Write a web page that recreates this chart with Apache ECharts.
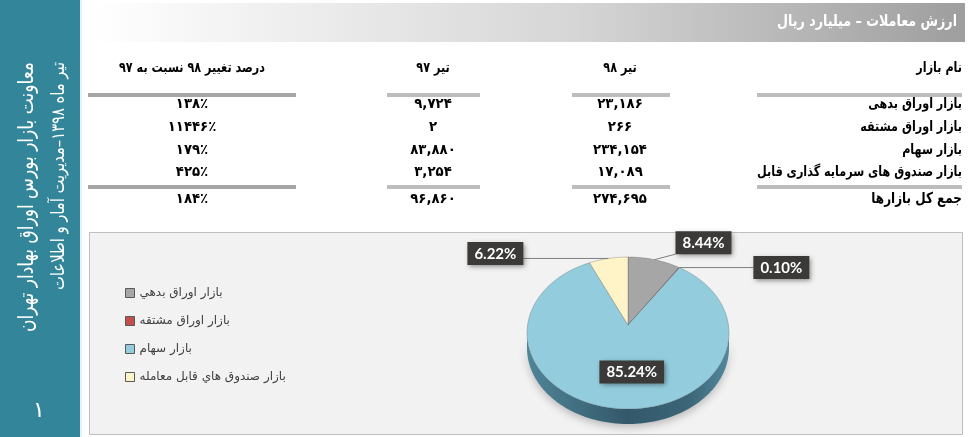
<!DOCTYPE html>
<html><head><meta charset="utf-8">
<script src="https://cdn.jsdelivr.net/npm/echarts@6/dist/echarts.min.js"></script>
<style>html,body{margin:0;padding:0;background:#fff}#c{width:968px;height:437px}</style>
</head><body><div id="c"></div>
<script>
// ---------------- data ----------------
const columnHeaders = ['نام بازار', 'تیر ۹۸', 'تیر ۹۷', 'درصد تغییر ۹۸ نسبت به ۹۷'];
const marketNames = ['بازار اوراق بدهی', 'بازار اوراق مشتقه', 'بازار سهام', 'بازار صندوق های سرمایه گذاری قابل'];
const legendNames = ['بازار اوراق بدهي', 'بازار اوراق مشتقه', 'بازار سهام', 'بازار صندوق هاي قابل معامله'];
const tir98 = [23186, 266, 234154, 17089];
const tir97 = [9724, 2, 83880, 3254];
const changePct = [138, 11446, 179, 425];
const totalLabel = 'جمع کل بازارها';
const total98 = 274695;
const total97 = 96860;
const totalPct = 184;
const headerTitle = 'ارزش معاملات – میلیارد ریال';
const sideLine1 = 'معاونت بازار بورس اوراق بهادار تهران';
const sideLine2 = 'تیر ماه ۱۳۹۸–مدیریت آمار و اطلاعات';
const pageNumber = '۱';

// ---------------- layout / style ----------------
const FA = '"DejaVu Sans"';
const sliceColors = ['#a6a6a6', '#c0504d', '#93cddd', '#fff3c8'];
const wallColors = ['#707070', '#7a2e2c', null, '#bdb187'];
const pieCx = 628, pieCy = 333, pieApexY = 325, pieRx = 101, pieRy = 76, pieDepth = 15;
const labelPlacement = [
  {dx: 49, dy: -17},
  {dx: 102, dy: 0},
  {inside: 0.58, dx: 8, dy: -5},
  {dx: -113, dy: -5}
];
const colX = [962, 620, 433, 192];
const headerRowY = 68;
const rowY = [104, 127, 150, 172];
const totalRowY = 199;
const ruleY = [95, 187];
const ruleSegs = [[88, 296, '#a6a6a6'], [387, 480, '#bdbdbd'], [572, 670, '#bdbdbd'], [757, 962, '#bdbdbd']];

// ---------------- helpers ----------------
function fa(s) { return String(s).replace(/\d/g, d => '۰۱۲۳۴۵۶۷۸۹'[d]); }
function faNum(n) { return fa(n.toLocaleString('en-US')); }
function faPct(n) { return fa(n) + '٪'; }
const mctx = document.createElement('canvas').getContext('2d');
function tw(text, font) { mctx.font = font; return mctx.measureText(text).width; }
function T(text, x, y, font, fill, align, scale, rot) {
  return {type: 'text', x: x, y: y, rotation: rot || 0, scaleX: scale || 1, z: 5,
    style: {text: text, font: font, fill: fill, align: align, textAlign: align,
      verticalAlign: 'middle', textVerticalAlign: 'middle'}};
}

const tableFont = 'bold 14px ' + FA;
const tableScale = Math.min(1, 205 / tw(marketNames[3], tableFont));
const numFont = 'bold 14px ' + FA;
const numScale = 0.95;
const totalFont = 'bold 15px ' + FA;
const headFont = 'bold 16px ' + FA;
const headScale = Math.min(1, 180 / tw(headerTitle, headFont));
const side1Font = '21px ' + FA, side2Font = '18px ' + FA;
const side1Scale = 270 / tw(sideLine1, side1Font);
const side2Scale = 228 / tw(sideLine2, side2Font);

// ---------------- graphic (frame + table) ----------------
const g = [];
g.push({type: 'rect', shape: {x: 0, y: 0, width: 80, height: 437}, style: {fill: '#33869a'}});
g.push({type: 'rect', shape: {x: 80, y: 0, width: 2, height: 437}, style: {fill: '#e3f5f9'}});
g.push(T(sideLine1, 28, 62, side1Font, '#ffffff', 'right', side1Scale, Math.PI / 2));
g.push(T(sideLine2, 59, 62, side2Font, '#ffffff', 'right', side2Scale, Math.PI / 2));
g.push(T(pageNumber, 39, 411, '22px ' + FA, '#ffffff', 'center', 1, 0));
g.push({type: 'rect', shape: {x: 92, y: 3, width: 873, height: 39},
  style: {fill: {type: 'linear', x: 0, y: 0, x2: 1, y2: 0,
    colorStops: [{offset: 0, color: '#ffffff'}, {offset: 0.55, color: '#d6d6d6'}, {offset: 1, color: '#9e9e9e'}]}}});
g.push(T(headerTitle, 957, 22, headFont, '#ffffff', 'right', headScale, 0));
// column headers
g.push(T(columnHeaders[0], colX[0], headerRowY, tableFont, '#000', 'right', tableScale));
for (let c = 1; c < 4; c++) g.push(T(columnHeaders[c], colX[c], headerRowY, tableFont, '#000', 'center', tableScale));
// rules
ruleY.forEach(y => ruleSegs.forEach(s => g.push({type: 'rect', shape: {x: s[0], y: y - 2, width: s[1] - s[0], height: 4}, style: {fill: s[2]}})));
// rows
for (let r = 0; r < marketNames.length; r++) {
  g.push(T(marketNames[r], colX[0], rowY[r], tableFont, '#000', 'right', tableScale));
  g.push(T(faNum(tir98[r]), colX[1], rowY[r], numFont, '#000', 'center', numScale));
  g.push(T(faNum(tir97[r]), colX[2], rowY[r], numFont, '#000', 'center', numScale));
  g.push(T(faPct(changePct[r]), colX[3], rowY[r], numFont, '#000', 'center', numScale));
}
g.push(T(totalLabel, colX[0], totalRowY, totalFont, '#000', 'right', tableScale));
g.push(T(faNum(total98), colX[1], totalRowY, numFont, '#000', 'center', numScale));
g.push(T(faNum(total97), colX[2], totalRowY, numFont, '#000', 'center', numScale));
g.push(T(faPct(totalPct), colX[3], totalRowY, numFont, '#000', 'center', numScale));
// chart panel
g.push({type: 'rect', z: -1, shape: {x: 89.5, y: 232.5, width: 873, height: 202}, style: {fill: '#f2f2f2', stroke: '#bfbfbf', lineWidth: 1}});

// ---------------- 3D pie via custom series ----------------
const pieTotal = tir98.reduce((a, b) => a + b, 0);
function rim(a) { return [pieCx + pieRx * Math.sin(a), pieCy - pieRy * Math.cos(a)]; }
function arcPts(a0, a1) {
  const n = Math.max(2, Math.ceil((a1 - a0) / (Math.PI / 180)));
  const pts = [];
  for (let k = 0; k <= n; k++) pts.push(rim(a0 + (a1 - a0) * k / n));
  return pts;
}
const labelFont = 'bold 15px Lato';

function makeRender(i) {
  return function (params, api) {
    const v = api.value(0);
    let cum = 0;
    for (let k = 0; k < i; k++) cum += tir98[k];
    const a0 = cum / pieTotal * 2 * Math.PI;
    const a1 = a0 + v / pieTotal * 2 * Math.PI;
    const children = [];
    // front wall
    const w0 = Math.max(a0, Math.PI / 2), w1 = Math.min(a1, 3 * Math.PI / 2);
    if (w1 > w0) {
      const top = arcPts(w0, w1);
      const bot = top.map(p => [p[0], p[1] + pieDepth]).reverse();
      const wallFill = wallColors[i] || {type: 'linear', x: pieCx - pieRx, y: 0, x2: pieCx + pieRx, y2: 0, global: true,
        colorStops: [{offset: 0, color: '#4f8597'}, {offset: 0.5, color: '#33586a'}, {offset: 0.8, color: '#3b6678'}, {offset: 1, color: '#52889c'}]};
      children.push({type: 'polygon', shape: {points: top.concat(bot)},
        style: {fill: wallFill, shadowBlur: 8, shadowColor: 'rgba(0,0,0,0.25)', shadowOffsetY: 3}});
    }
    // top face
    const face = [[pieCx, pieApexY]].concat(arcPts(a0, a1));
    children.push({type: 'polygon', shape: {points: face},
      style: {fill: sliceColors[i], stroke: 'rgba(70,70,70,0.45)', lineWidth: 0.6}});
    // label
    const pct = (v / pieTotal * 100).toFixed(2) + '%';
    const pl = labelPlacement[i];
    const mid = (a0 + a1) / 2;
    let lx, ly;
    const bw = tw(pct, labelFont) + 14, bh = 23;
    if (pl.inside) {
      lx = pieCx + pl.inside * pieRx * Math.sin(mid) + pl.dx;
      ly = pieCy - pl.inside * pieRy * Math.cos(mid) + pl.dy;
    } else {
      const rp = rim(mid);
      lx = rp[0] + pl.dx; ly = rp[1] + pl.dy;
      const nx = Math.max(lx - bw / 2, Math.min(rp[0], lx + bw / 2));
      const ny = Math.max(ly - bh / 2, Math.min(rp[1], ly + bh / 2));
      children.push({type: 'line', z2: 90, shape: {x1: rp[0], y1: rp[1], x2: nx, y2: ny},
        style: {stroke: '#7f7f7f', lineWidth: 1}});
    }
    children.push({type: 'rect', z2: 100, shape: {x: lx - bw / 2, y: ly - bh / 2, width: bw, height: bh},
      style: {fill: '#3b3a39', shadowBlur: 5, shadowColor: 'rgba(0,0,0,0.45)', shadowOffsetX: 2, shadowOffsetY: 2}});
    children.push({type: 'text', z2: 101, x: lx, y: ly + 0.5,
      style: {text: pct, font: labelFont, fill: '#ffffff', align: 'center', textAlign: 'center',
        verticalAlign: 'middle', textVerticalAlign: 'middle'}});
    return {type: 'group', children: children};
  };
}

const series = tir98.map((v, i) => ({
  type: 'custom', name: legendNames[i], coordinateSystem: 'none',
  itemStyle: {color: sliceColors[i]},
  data: [[v]], renderItem: makeRender(i), silent: true, animation: false
}));

const chart = echarts.init(document.getElementById('c'), null, {renderer: 'canvas', width: 968, height: 437});
chart.setOption({
  animation: false,
  backgroundColor: '#ffffff',
  graphic: {elements: g},
  legend: {
    orient: 'vertical', left: 120, top: 281, itemWidth: 9, itemHeight: 9, itemGap: 14,
    icon: 'rect', selectedMode: false, data: legendNames,
    itemStyle: {borderColor: '#595959', borderWidth: 1},
    textStyle: {fontFamily: 'DejaVu Sans', fontSize: 12, color: '#404040', lineHeight: 14}
  },
  series: series
});
</script>
</body></html>
